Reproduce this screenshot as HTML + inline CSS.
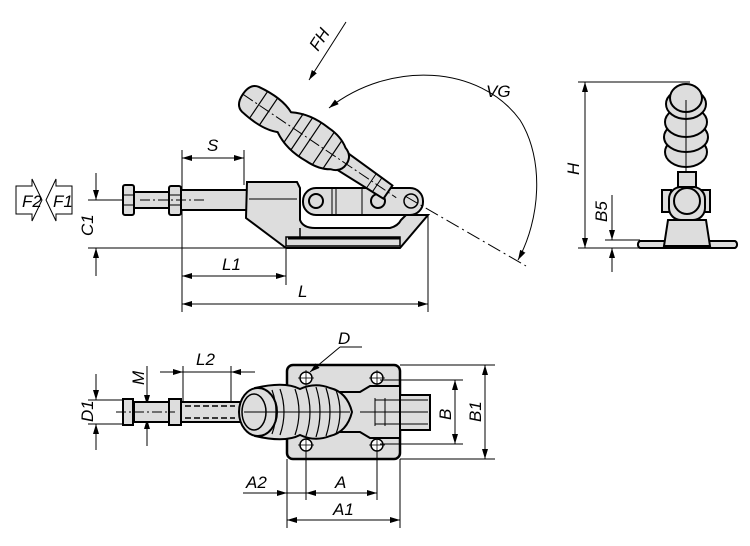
<!DOCTYPE html>
<html><head><meta charset="utf-8"><style>
html,body{margin:0;padding:0;background:#fff}
svg{display:block}
text{font-family:"Liberation Sans",sans-serif;font-style:italic;font-size:17px;fill:#000}
</style></head><body>
<svg width="750" height="546" viewBox="0 0 750 546" xmlns="http://www.w3.org/2000/svg">
<defs>
<marker id="a" viewBox="0 0 10 6" refX="10" refY="3" markerWidth="10" markerHeight="6" orient="auto-start-reverse" markerUnits="userSpaceOnUse"><path d="M0,0L10,3L0,6z" fill="#000"/></marker>
</defs>
<g stroke="#000" fill="none" stroke-width="1">
<!-- ===== TOP VIEW ===== -->
<path d="M16,186h16v-7l10,21l-10,21v-7h-16z" fill="#fff"/>
<path d="M72,186h-16v-7l-10,21l10,21v-7h16z" fill="#fff"/>
<line x1="88" y1="200" x2="122" y2="200"/>
<line x1="88" y1="248" x2="286" y2="248"/>
<line x1="96" y1="173" x2="96" y2="200" marker-end="url(#a)"/>
<line x1="96" y1="276" x2="96" y2="248" marker-end="url(#a)"/>
<line x1="182" y1="150" x2="182" y2="312"/>
<line x1="244" y1="150" x2="244" y2="185"/>
<line x1="286" y1="248" x2="286" y2="285"/>
<line x1="428" y1="215" x2="428" y2="312"/>
<line x1="182" y1="158" x2="244" y2="158" marker-start="url(#a)" marker-end="url(#a)"/>
<line x1="182" y1="276" x2="286" y2="276" marker-start="url(#a)" marker-end="url(#a)"/>
<line x1="182" y1="304" x2="428" y2="304" marker-start="url(#a)" marker-end="url(#a)"/>
<!-- rod -->
<rect x="134" y="192" width="36" height="16" fill="#ddd" stroke-width="2"/>
<rect x="181" y="190" width="66" height="20" fill="#ddd" stroke-width="2"/>
<rect x="123" y="185" width="11" height="30" rx="2" fill="#ddd" stroke-width="2"/>
<line x1="123" y1="195" x2="134" y2="195"/><line x1="123" y1="205" x2="134" y2="205"/>
<rect x="169" y="186" width="12" height="29" rx="2" fill="#ddd" stroke-width="2"/>
<line x1="169" y1="195" x2="181" y2="195"/><line x1="169" y1="205" x2="181" y2="205"/>
<line x1="140" y1="200" x2="205" y2="200" stroke-dasharray="10,3,2,3"/>
<!-- body -->
<path d="M286,248 L246,218 L247,182 H297 L300,188 V220 Q303,228 315,228 H390 Q398,226 401,220 L406,215 H428 L400,248 Z" fill="#ddd" stroke-width="2"/>
<line x1="249" y1="199" x2="297" y2="199"/>
<path d="M286,237 H400 V246 H286 Z" fill="#ddd" stroke-width="1.5"/>
<line x1="288" y1="238" x2="400" y2="238" stroke-width="3"/>
<line x1="300" y1="228" x2="300" y2="237" stroke-width="1.5"/>
<!-- link -->
<rect x="303" y="188" width="120" height="27" rx="13" fill="#ddd" stroke-width="2"/>
<circle cx="316" cy="201" r="7" fill="#ddd" stroke-width="2"/>
<circle cx="378" cy="201" r="7" fill="#ddd" stroke-width="2"/>
<circle cx="411" cy="201" r="7" fill="#ddd" stroke-width="1.5"/>
<line x1="332" y1="189" x2="332" y2="214"/><line x1="336" y1="189" x2="336" y2="214"/>
<line x1="362" y1="189" x2="362" y2="214"/>
<!-- handle -->
<g transform="translate(247,97) rotate(34)">
<path d="M112,-10 L170,-8 L170,8 L112,10 Z" fill="#ddd" stroke-width="2"/>
<line x1="150" y1="-8" x2="150" y2="8"/><line x1="157" y1="-8" x2="157" y2="8"/>
<path d="M4,-15 Q30,-19 45,-12 Q62,-22 85,-20 Q100,-20 110,-13 Q120,-10 120,0 Q120,10 110,13 Q100,20 85,20 Q62,22 45,12 Q30,19 4,15 Q-5,13 -5,0 Q-5,-13 4,-15 Z" fill="#ddd" stroke-width="2"/>
<g stroke-width="1.2">
<line x1="14" y1="-16" x2="14" y2="16"/><line x1="26" y1="-17" x2="26" y2="17"/>
<line x1="56" y1="-18" x2="56" y2="18"/><line x1="66" y1="-20" x2="66" y2="20"/>
<line x1="76" y1="-20" x2="76" y2="20"/><line x1="92" y1="-20" x2="92" y2="20"/>
<line x1="103" y1="-17" x2="103" y2="17"/>
</g>
<line x1="-5" y1="0" x2="180" y2="0" stroke-dasharray="12,3,2,3"/>
</g>
<line x1="405" y1="196" x2="526" y2="266" stroke-dasharray="14,4,2,4"/>
<path d="M329,108 C 390,60 480,65 520,120 C 545,160 540,220 518,260" marker-start="url(#a)" marker-end="url(#a)"/>
<line x1="346" y1="22" x2="309" y2="80" marker-end="url(#a)"/>
</g>
<g>
<text x="22" y="207" font-size="14">F2</text>
<text x="53" y="207" font-size="14">F1</text>
<text transform="translate(93,236) rotate(-90)">C1</text>
<text x="207" y="151">S</text>
<text x="222" y="270">L1</text>
<text x="298" y="297">L</text>
<text transform="translate(318,52) rotate(-57)">FH</text>
<text x="486" y="97">VG</text>
<text transform="translate(579,175) rotate(-90)">H</text>
<text transform="translate(607,222) rotate(-90)">B5</text>
</g>
<!-- ===== SIDE VIEW ===== -->
<g stroke="#000" fill="none" stroke-width="1">
<line x1="578" y1="82" x2="690" y2="82"/>
<line x1="578" y1="248" x2="640" y2="248"/>
<line x1="605" y1="240" x2="640" y2="240"/>
<line x1="585" y1="82" x2="585" y2="248" marker-start="url(#a)" marker-end="url(#a)"/>
<line x1="612" y1="195" x2="612" y2="240" marker-end="url(#a)"/>
<line x1="612" y1="272" x2="612" y2="248" marker-end="url(#a)"/>
<path d="M640,241 h95 a4,4 0 0 1 0,7 h-95 a4,4 0 0 1 0,-7z" fill="#ddd" stroke-width="2"/>
<path d="M668,220 L664,246 L710,246 L706,220 Z" fill="#ddd" stroke-width="2"/>
<rect x="662" y="190" width="9" height="22" fill="#ddd" stroke-width="2"/>
<rect x="701" y="190" width="9" height="22" fill="#ddd" stroke-width="2"/>
<rect x="669" y="187" width="36" height="33" rx="12" fill="#ddd" stroke-width="2"/>
<circle cx="687" cy="201" r="13" fill="#ddd" stroke-width="2"/>
<rect x="678" y="172" width="18" height="15" fill="#ddd" stroke-width="2"/>
<ellipse cx="686" cy="152" rx="21" ry="15" fill="#ddd" stroke-width="2"/>
<ellipse cx="686" cy="137" rx="22" ry="15" fill="#ddd" stroke-width="2"/>
<ellipse cx="686" cy="122" rx="21" ry="15" fill="#ddd" stroke-width="2"/>
<ellipse cx="686" cy="104" rx="20" ry="15" fill="#ddd" stroke-width="2"/>
<ellipse cx="686" cy="98" rx="16" ry="14" fill="#ddd" stroke-width="2"/>
<line x1="686" y1="100" x2="686" y2="172"/>
</g>
<!-- ===== BOTTOM VIEW ===== -->
<g stroke="#000" fill="none" stroke-width="1">
<line x1="88" y1="400" x2="125" y2="400"/><line x1="88" y1="424" x2="125" y2="424"/>
<line x1="96" y1="374" x2="96" y2="400" marker-end="url(#a)"/>
<line x1="96" y1="450" x2="96" y2="424" marker-end="url(#a)"/>
<line x1="147" y1="366" x2="147" y2="405" marker-end="url(#a)"/>
<line x1="147" y1="446" x2="147" y2="419" marker-end="url(#a)"/>
<line x1="183" y1="366" x2="183" y2="405"/><line x1="231" y1="366" x2="231" y2="405"/>
<line x1="160" y1="372" x2="183" y2="372" marker-end="url(#a)"/>
<line x1="255" y1="372" x2="231" y2="372" marker-end="url(#a)"/>
<line x1="183" y1="372" x2="231" y2="372"/>
<rect x="134" y="402" width="36" height="20" fill="#ddd" stroke-width="2"/>
<rect x="181" y="402" width="60" height="20" fill="#ddd" stroke-width="2"/>
<line x1="185" y1="406" x2="235" y2="406" stroke-dasharray="6,3" stroke-width="1.5"/>
<line x1="185" y1="418" x2="235" y2="418" stroke-dasharray="6,3" stroke-width="1.5"/>
<rect x="123" y="399" width="10" height="26" fill="#ddd" stroke-width="2"/>
<rect x="169" y="399" width="12" height="26" fill="#ddd" stroke-width="2"/>
<line x1="116" y1="412" x2="175" y2="412" stroke-dasharray="10,3,2,3"/>
<rect x="287" y="365" width="113" height="94" rx="6" fill="#ddd" stroke-width="2.5"/>
<g fill="#fff" stroke-width="1.5">
<circle cx="306" cy="378" r="6"/><circle cx="377" cy="378" r="6"/>
<circle cx="306" cy="445" r="6"/><circle cx="377" cy="445" r="6"/></g>
<g stroke-width="0.8"><line x1="298" y1="378" x2="314" y2="378"/><line x1="306" y1="370" x2="306" y2="386"/>
<line x1="369" y1="378" x2="385" y2="378"/><line x1="377" y1="370" x2="377" y2="386"/>
<line x1="298" y1="445" x2="314" y2="445"/><line x1="306" y1="437" x2="306" y2="453"/>
<line x1="369" y1="445" x2="385" y2="445"/><line x1="377" y1="437" x2="377" y2="453"/></g>
<rect x="340" y="395" width="90" height="35" fill="#ddd" stroke-width="2"/>
<path d="M330,392 L360,392 L370,386 L400,386 L400,438 L370,438 L360,432 L330,432" fill="#ddd" stroke-width="2"/>
<line x1="360" y1="412" x2="428" y2="412"/><line x1="375" y1="400" x2="428" y2="400"/><line x1="375" y1="424" x2="428" y2="424"/>
<line x1="375" y1="398" x2="375" y2="426"/><line x1="385" y1="398" x2="385" y2="426"/>
<path d="M255,388 Q285,381 300,389 Q315,382 330,388 Q347,392 352,412 Q347,432 330,436 Q315,442 300,435 Q285,443 255,436 Z" fill="#ddd" stroke-width="2"/>
<ellipse cx="258" cy="412" rx="19" ry="24" fill="#ddd" stroke-width="2"/>
<ellipse cx="254" cy="412" rx="12" ry="18" fill="#ddd" stroke-width="1.5"/>
<g stroke-width="1.2"><path d="M272,390 q8,22 0,44"/><path d="M280,389 q8,23 0,46"/><path d="M295,389 q8,23 0,46"/><path d="M306,388 q8,24 0,48"/><path d="M316,387 q8,25 0,50"/><path d="M326,388 q8,24 0,48"/><path d="M336,390 q8,22 0,44"/></g>
<line x1="244" y1="412" x2="350" y2="412"/>
<line x1="400" y1="365" x2="495" y2="365"/><line x1="400" y1="459" x2="495" y2="459"/>
<line x1="380" y1="380" x2="463" y2="380"/><line x1="380" y1="444" x2="463" y2="444"/>
<line x1="455" y1="380" x2="455" y2="444" marker-start="url(#a)" marker-end="url(#a)"/>
<line x1="485" y1="365" x2="485" y2="459" marker-start="url(#a)" marker-end="url(#a)"/>
<line x1="287" y1="459" x2="287" y2="528"/><line x1="400" y1="459" x2="400" y2="528"/>
<line x1="306" y1="451" x2="306" y2="500"/><line x1="377" y1="451" x2="377" y2="500"/>
<line x1="243" y1="493" x2="287" y2="493" marker-end="url(#a)"/>
<line x1="287" y1="493" x2="306" y2="493"/>
<line x1="306" y1="493" x2="377" y2="493" marker-start="url(#a)" marker-end="url(#a)"/>
<line x1="287" y1="520" x2="400" y2="520" marker-start="url(#a)" marker-end="url(#a)"/>
<line x1="362" y1="347" x2="340" y2="347"/>
<line x1="340" y1="347" x2="310" y2="372" marker-end="url(#a)"/>
</g>
<g>
<text transform="translate(93,422) rotate(-90)">D1</text>
<text transform="translate(144,385) rotate(-90)">M</text>
<text x="196" y="365">L2</text>
<text x="338" y="344">D</text>
<text transform="translate(451,420) rotate(-90)">B</text>
<text transform="translate(481,422) rotate(-90)">B1</text>
<text x="246" y="488">A2</text>
<text x="335" y="488">A</text>
<text x="333" y="515">A1</text>
</g>
</svg>
</body></html>
